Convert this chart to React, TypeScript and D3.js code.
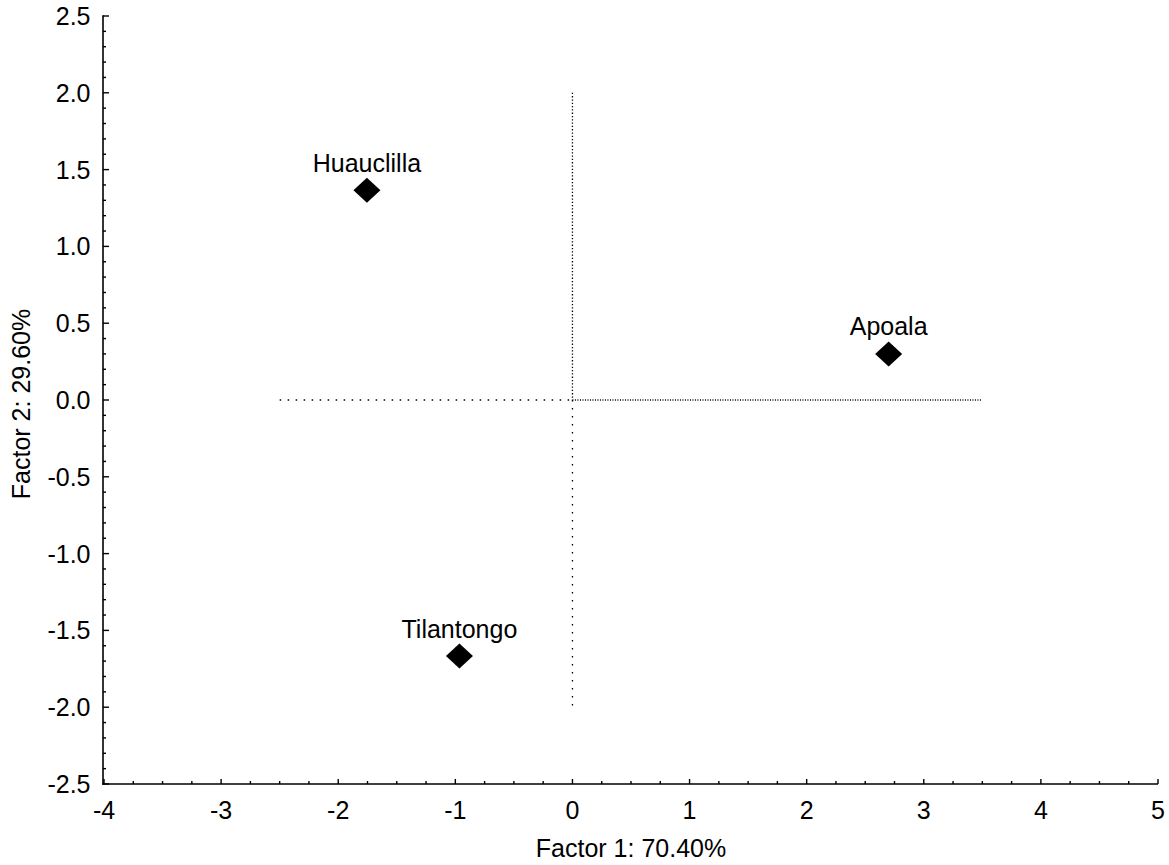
import React from "react";
import * as d3 from "d3";

const names = ["Huauclilla", "Apoala", "Tilantongo"];
const factor1 = [-1.755, 2.7, -0.965];
const factor2 = [1.365, 0.3, -1.667];
const xTicks = [-4, -3, -2, -1, 0, 1, 2, 3, 4, 5];
const yTicks = [2.5, 2.0, 1.5, 1.0, 0.5, 0.0, -0.5, -1.0, -1.5, -2.0, -2.5];
const xTitle = "Factor 1: 70.40%";
const yTitle = "Factor 2: 29.60%";

const W = 1169;
const H = 865;
const left = 104;
const right = 1158;
const top = 16;
const bottom = 784;

export default function App() {
  const x = d3.scaleLinear().domain([-4, 5]).range([left, right]);
  const y = d3.scaleLinear().domain([-2.5, 2.5]).range([bottom, top]);
  const font = "'Liberation Sans', Arial, sans-serif";
  const fs = 25;
  const xMinor = d3.range(-4, 5.0001, 0.25).filter((v) => Math.abs(v - Math.round(v)) > 1e-6);
  const yMinor = d3.range(-25, 26, 1).map((v) => v / 10).filter((v) => Math.abs(v * 2 - Math.round(v * 2)) > 1e-6);
  const ax = left - 1;
  const ay = bottom;
  return (
    <svg width={W} height={H} style={{ position: "absolute", left: 0, top: 0, background: "#fff" }}>
      <rect x={0} y={0} width={W} height={H} fill="#fff" />
      {/* reference lines */}
      <line x1={x(-2.5)} x2={x(0)} y1={y(0)} y2={y(0)} stroke="#000" strokeWidth={1.3} strokeDasharray="1.5 6.5" />
      <line x1={x(0)} x2={x(3.5)} y1={y(0)} y2={y(0)} stroke="#000" strokeWidth={1.3} strokeDasharray="1 1.5" />
      <line x1={x(0)} x2={x(0)} y1={y(2)} y2={y(0)} stroke="#000" strokeWidth={1.3} strokeDasharray="1.3 2" />
      <line x1={x(0)} x2={x(0)} y1={y(0)} y2={y(-2)} stroke="#000" strokeWidth={1.3} strokeDasharray="1.5 6.5" />
      {/* axes */}
      <line x1={ax} x2={ax} y1={top - 0.75} y2={bottom + 0.75} stroke="#000" strokeWidth={1.6} />
      <line x1={ax - 0.75} x2={right} y1={ay} y2={ay} stroke="#000" strokeWidth={1.6} />
      {yTicks.map((t) => (
        <g key={"yt" + t}>
          <line x1={ax} x2={ax + 6} y1={y(t)} y2={y(t)} stroke="#000" strokeWidth={1.4} />
          <text x={90.5} y={y(t)} dy={9} textAnchor="end" fontFamily={font} fontSize={fs} fill="#000">
            {t.toFixed(1)}
          </text>
        </g>
      ))}
      {yMinor.map((t) => (
        <line key={"ym" + t} x1={ax} x2={ax + 3} y1={y(t)} y2={y(t)} stroke="#000" strokeWidth={1.4} />
      ))}
      {xTicks.map((t) => (
        <g key={"xt" + t}>
          <line x1={x(t)} x2={x(t)} y1={ay} y2={ay - 5} stroke="#000" strokeWidth={1.4} />
          <text x={x(t)} y={819} textAnchor="middle" fontFamily={font} fontSize={fs} fill="#000">
            {String(t)}
          </text>
        </g>
      ))}
      {xMinor.map((t) => (
        <line key={"xm" + t} x1={x(t)} x2={x(t)} y1={ay} y2={ay - 3} stroke="#000" strokeWidth={1.4} />
      ))}
      {/* titles */}
      <text x={(left + right) / 2} y={857} textAnchor="middle" fontFamily={font} fontSize={fs} fill="#000">
        {xTitle}
      </text>
      <text
        transform={`translate(30, ${(top + bottom) / 2 + 4}) rotate(-90)`}
        textAnchor="middle"
        fontFamily={font}
        fontSize={fs}
        fill="#000"
      >
        {yTitle}
      </text>
      {/* points */}
      {names.map((n, i) => {
        const px = x(factor1[i]);
        const py = y(factor2[i]);
        return (
          <g key={n}>
            <path d={`M${px},${py - 12.5} L${px + 13.5},${py} L${px},${py + 12.5} L${px - 13.5},${py} Z`} fill="#000" />
            <text x={px} y={py - 18.5} textAnchor="middle" fontFamily={font} fontSize={fs} fill="#000">
              {n}
            </text>
          </g>
        );
      })}
    </svg>
  );
}
